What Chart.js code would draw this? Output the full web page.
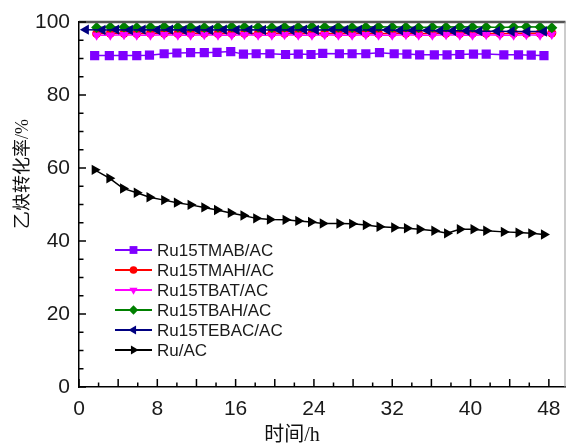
<!DOCTYPE html>
<html><head><meta charset="utf-8">
<script src="https://cdn.jsdelivr.net/npm/chart.js@4.4.1/dist/chart.umd.min.js"></script>
<style>html,body{margin:0;padding:0;background:#fff}#wrap{width:572px;height:446px}</style>
</head><body><div id="wrap"><canvas id="c" width="572" height="446"></canvas></div>
<script>
const seriesNames = ["Ru15TMAB/AC","Ru15TMAH/AC","Ru15TBAT/AC","Ru15TBAH/AC","Ru15TEBAC/AC","Ru/AC"];
const xTickLabels = [0,8,16,24,32,40,48];
const yTickLabels = [0,20,40,60,80,100];
const xTitle = "时间/h";
const yTitle = "乙炔转化率/%";

const hours = [1.6,3.1,4.5,5.9,7.2,8.7,10.0,11.4,12.8,14.1,15.5,16.8,18.1,19.5,21.1,22.4,23.7,24.9,26.6,27.9,29.3,30.7,32.2,33.5,34.8,36.3,37.6,38.9,40.3,41.6,43.4,44.9,46.2,47.5];
const hoursTop = [1.8,3.2,4.6,5.9,7.3,8.7,10.1,11.4,12.8,14.2,15.6,16.9,18.3,19.7,21.0,22.4,23.8,25.1,26.5,27.9,29.3,30.6,32.0,33.4,34.7,36.1,37.5,38.9,40.2,41.6,43.0,44.4,45.7,47.1,48.3];
const hoursBlue = [0.7,2.4,3.8,5.2,6.5,8.0,9.3,10.7,12.1,13.4,14.8,16.1,17.4,18.8,20.4,21.7,23.0,24.2,25.9,27.2,28.6,30.0,31.5,32.8,34.1,35.6,36.9,38.2,39.6,40.9,42.7,44.2,45.8,47.5];

const tmab = [90.8,90.8,90.8,90.8,90.9,91.3,91.5,91.6,91.6,91.7,91.9,91.2,91.3,91.3,91.1,91.2,91.1,91.4,91.3,91.3,91.3,91.6,91.3,91.2,91.0,91.0,91.0,91.1,91.2,91.2,91.0,91.0,90.9,90.8];
const tmah = [96.8,96.9,96.9,96.8,96.9,96.9,96.8,96.9,96.9,96.8,96.9,96.9,96.8,96.9,96.9,96.8,96.9,96.9,96.8,96.9,96.9,96.8,96.9,96.9,96.8,96.9,96.9,96.8,96.9,96.9,96.8,96.9,96.9,96.9,97.0];
const tbat = [96.4,96.4,96.5,96.4,96.4,96.5,96.4,96.4,96.5,96.4,96.4,96.5,96.4,96.4,96.5,96.4,96.4,96.5,96.4,96.4,96.5,96.4,96.4,96.5,96.4,96.4,96.5,96.4,96.4,96.5,96.4,96.4,96.5,96.4,96.6];
const tbah = [98.5,98.6,98.6,98.5,98.6,98.7,98.6,98.6,98.5,98.6,98.7,98.6,98.6,98.5,98.6,98.6,98.7,98.6,98.6,98.5,98.6,98.7,98.6,98.6,98.5,98.6,98.6,98.7,98.6,98.6,98.5,98.6,98.7,98.6,98.4];
const tebac = [97.9,97.8,97.9,97.8,97.9,97.8,97.9,97.8,97.9,97.8,97.9,97.8,97.9,97.8,97.9,97.8,97.9,97.8,97.9,97.8,97.8,97.8,97.8,97.7,97.7,97.7,97.6,97.6,97.6,97.5,97.5,97.4,97.4,97.4];
const ruac = [59.5,57.2,54.4,53.2,52.0,51.2,50.5,49.9,49.2,48.5,47.7,47.0,46.2,45.9,45.8,45.5,45.2,44.8,44.8,44.7,44.4,43.9,43.7,43.5,43.2,42.8,42.1,43.2,43.2,42.8,42.5,42.3,42.1,41.8];

const styles = [
  {color:'#7F00FF', style:'rect', rot:0, r:6.5, order:4},
  {color:'#FF0000', style:'circle', rot:0, r:4.5, order:3},
  {color:'#FF00FF', style:'triangle', rot:180, r:5.5, order:2},
  {color:'#008000', style:'rectRot', rot:0, r:5.5, order:1},
  {color:'#000080', style:'triangle', rot:-90, r:6, order:0},
  {color:'#000000', style:'triangle', rot:90, r:6, order:5}
];
const xs = [hours, hoursTop, hoursTop, hoursTop, hoursBlue, hours];
const ys = [tmab, tmah, tbat, tbah, tebac, ruac];

const datasets = seriesNames.map((n,i)=>({
  label:n,
  data: xs[i].map((x,k)=>({x:x, y:ys[i][k]})),
  borderColor: styles[i].color,
  backgroundColor: styles[i].color,
  pointStyle: styles[i].style,
  pointRotation: styles[i].rot,
  pointRadius: styles[i].r,
  pointBorderWidth: 0,
  borderWidth: 1.5,
  order: styles[i].order
}));

const deco = {
  id:'deco',
  afterDraw(chart){
    const ctx = chart.ctx, a = chart.chartArea;
    const xsc = chart.scales.x, ysc = chart.scales.y;
    ctx.save();
    ctx.strokeStyle = '#555'; ctx.lineWidth = 2.5;
    ctx.beginPath(); ctx.moveTo(a.left, a.top); ctx.lineTo(a.right, a.top); ctx.stroke();
    ctx.strokeStyle = '#999'; ctx.lineWidth = 1;
    ctx.beginPath(); ctx.moveTo(a.right-0.5, a.top); ctx.lineTo(a.right-0.5, a.bottom); ctx.stroke();
    ctx.strokeStyle = '#000'; ctx.lineWidth = 1.5;
    for (let v=0; v<=48; v+=2){
      const px = xsc.getPixelForValue(v);
      const len = (v%4===0)?8:4.5;
      ctx.beginPath(); ctx.moveTo(px, a.bottom); ctx.lineTo(px, a.bottom-len); ctx.stroke();
    }
    for (let v=0; v<=100; v+=5){
      const py = ysc.getPixelForValue(v);
      const len = (v%20===0)?7:4.5;
      ctx.beginPath(); ctx.moveTo(a.left, py); ctx.lineTo(a.left+len, py); ctx.stroke();
    }
    ctx.fillStyle = '#111';
    ctx.textAlign = 'center'; ctx.textBaseline = 'middle';
    ctx.font = '20px "Liberation Serif", "Noto Sans CJK SC", serif';
    ctx.fillText(xTitle, 292, 436);
    ctx.save();
    ctx.translate(23, 174); ctx.rotate(-Math.PI/2);
    ctx.font = '18px "Liberation Serif", "Noto Sans CJK SC", serif';
    ctx.fillText(yTitle, 0, 0);
    ctx.restore();
    ctx.font = '17px "Liberation Sans", Arial, sans-serif';
    ctx.textAlign = 'left'; ctx.textBaseline = 'middle';
    seriesNames.forEach((n,i)=>{
      const y = 250 + i*20;
      ctx.strokeStyle = styles[i].color; ctx.lineWidth = 2;
      ctx.beginPath(); ctx.moveTo(115, y); ctx.lineTo(152, y); ctx.stroke();
      ctx.fillStyle = styles[i].color;
      Chart.helpers.drawPoint(ctx, {pointStyle: styles[i].style, rotation: styles[i].rot, radius: styles[i].r*0.85, borderWidth:0}, 133.5, y);
      ctx.fillStyle = '#1a1a1a';
      ctx.fillText(n, 157, y+1);
    });
    ctx.restore();
  }
};

new Chart(document.getElementById('c'), {
  type:'line',
  data:{datasets},
  options:{
    responsive:false, animation:false, devicePixelRatio:1,
    layout:{padding:{top:22, right:2, left:0, bottom:0}},
    plugins:{legend:{display:false}, tooltip:{enabled:false}},
    scales:{
      x:{type:'linear', min:0, max:49.7,
        afterFit(s){ s.height = 59; },
        afterBuildTicks(s){ s.ticks = xTickLabels.map(v=>({value:v})); },
        grid:{display:false, drawTicks:false},
        border:{display:true, color:'#000', width:1.5},
        ticks:{autoSkip:false, padding:10, color:'#1a1a1a', maxRotation:0,
          font:{family:'"Liberation Sans", Arial, sans-serif', size:21},
          callback:(v)=> String(v)}
      },
      y:{type:'linear', min:0, max:100,
        afterFit(s){ s.width = 79; },
        afterBuildTicks(s){ s.ticks = yTickLabels.map(v=>({value:v})); },
        grid:{display:false, drawTicks:false},
        border:{display:true, color:'#000', width:1.5},
        ticks:{autoSkip:false, padding:9, color:'#1a1a1a',
          font:{family:'"Liberation Sans", Arial, sans-serif', size:21},
          callback:(v)=> String(v)}
      }
    }
  },
  plugins:[deco]
});
</script></body></html>
